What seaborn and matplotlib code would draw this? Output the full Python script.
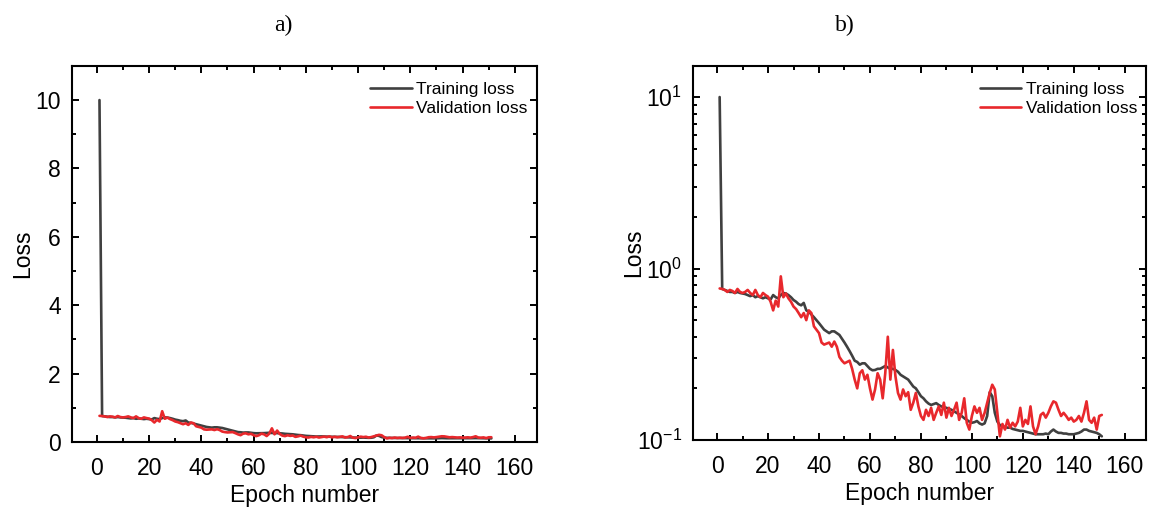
import matplotlib
matplotlib.use("Agg")
import matplotlib.pyplot as plt
from matplotlib.ticker import MultipleLocator, LogLocator, NullFormatter
import pandas as pd
import seaborn as sns

# loss per epoch
epochs = list(range(1, 152))

train_loss = [
    10.0, 0.76, 0.75, 0.74, 0.73, 0.73, 0.72, 0.73, 0.72, 0.715,
    0.71, 0.70, 0.69, 0.70, 0.68, 0.69, 0.68, 0.67, 0.68, 0.67,
    0.66, 0.70, 0.68, 0.67, 0.70, 0.72, 0.715, 0.70, 0.68, 0.655,
    0.64, 0.62, 0.61, 0.63, 0.57, 0.56, 0.54, 0.52, 0.50, 0.48,
    0.46, 0.44, 0.43, 0.42, 0.43, 0.43, 0.42, 0.41, 0.39, 0.37,
    0.35, 0.33, 0.31, 0.29, 0.285, 0.275, 0.28, 0.28, 0.27, 0.26,
    0.255, 0.256, 0.26, 0.26, 0.265, 0.27, 0.265, 0.26, 0.26, 0.256,
    0.25, 0.24, 0.235, 0.23, 0.225, 0.215, 0.205, 0.20, 0.19, 0.18,
    0.175, 0.168, 0.163, 0.16, 0.162, 0.164, 0.16, 0.157, 0.155, 0.154,
    0.152, 0.15, 0.147, 0.144, 0.141, 0.138, 0.134, 0.131, 0.128, 0.126,
    0.127, 0.129, 0.125, 0.123, 0.125, 0.138, 0.19, 0.18, 0.144, 0.128,
    0.122, 0.12, 0.119, 0.118, 0.118, 0.116, 0.115, 0.114, 0.113, 0.113,
    0.112, 0.111, 0.110, 0.109, 0.108, 0.108, 0.108, 0.108, 0.109, 0.108,
    0.112, 0.115, 0.112, 0.110, 0.110, 0.109, 0.109, 0.108, 0.108, 0.108,
    0.109, 0.110, 0.112, 0.115, 0.115, 0.113, 0.112, 0.111, 0.110, 0.108,
    0.105,
]

val_loss = [
    0.765, 0.76, 0.75, 0.73, 0.75, 0.74, 0.72, 0.76, 0.73, 0.72,
    0.73, 0.75, 0.72, 0.70, 0.75, 0.70, 0.68, 0.72, 0.70, 0.685,
    0.64, 0.57, 0.65, 0.60, 0.90, 0.68, 0.715, 0.67, 0.64, 0.60,
    0.58, 0.55, 0.52, 0.55, 0.50, 0.57, 0.55, 0.46, 0.44, 0.42,
    0.37, 0.36, 0.365, 0.37, 0.35, 0.375, 0.35, 0.305, 0.29, 0.28,
    0.285, 0.29, 0.26, 0.225, 0.20, 0.245, 0.255, 0.225, 0.24, 0.20,
    0.172, 0.197, 0.245, 0.225, 0.175, 0.245, 0.40, 0.225, 0.335, 0.235,
    0.188, 0.172, 0.197, 0.18, 0.19, 0.15, 0.165, 0.188, 0.157, 0.138,
    0.131, 0.15, 0.138, 0.154, 0.131, 0.144, 0.157, 0.14, 0.165, 0.135,
    0.154, 0.138, 0.15, 0.165, 0.131, 0.144, 0.175, 0.126, 0.115, 0.138,
    0.157, 0.144, 0.154, 0.131, 0.144, 0.165, 0.188, 0.21, 0.197, 0.144,
    0.105, 0.124, 0.115, 0.131, 0.118, 0.126, 0.12, 0.128, 0.154, 0.12,
    0.131, 0.124, 0.157, 0.12, 0.108, 0.12, 0.14, 0.144, 0.135, 0.144,
    0.157, 0.168, 0.165, 0.15, 0.138, 0.144, 0.138, 0.131, 0.135, 0.128,
    0.131, 0.138, 0.128, 0.144, 0.168, 0.131, 0.126, 0.135, 0.115, 0.138,
    0.14,
]

series_names = ["Training loss", "Validation loss"]
colors = ["#404040", "#e8282c"]

df = pd.concat([
    pd.DataFrame({"epoch": epochs, "loss": train_loss, "series": series_names[0]}),
    pd.DataFrame({"epoch": epochs, "loss": val_loss, "series": series_names[1]}),
])

sns.set_style("ticks")
plt.rcParams["font.family"] = ["Liberation Sans", "DejaVu Sans"]
plt.rcParams["mathtext.default"] = "regular"
plt.rcParams["text.color"] = "black"
plt.rcParams["axes.labelcolor"] = "black"
plt.rcParams["xtick.color"] = "black"
plt.rcParams["ytick.color"] = "black"
plt.rcParams["axes.edgecolor"] = "black"

fig = plt.figure(figsize=(11.51, 5.09), dpi=100)
ax_a = fig.add_axes([0.0626, 0.1316, 0.404, 0.739])
ax_b = fig.add_axes([0.602, 0.1356, 0.394, 0.735])

for ax, log in [(ax_a, False), (ax_b, True)]:
    sns.lineplot(df, x="epoch", y="loss", hue="series", palette=colors,
                 linewidth=1.9, ax=ax)
    ax.set_xlim(-9.5, 168.5)
    ax.xaxis.set_major_locator(MultipleLocator(20))
    ax.xaxis.set_minor_locator(MultipleLocator(10))
    if log:
        ax.set_yscale("log")
        ax.set_ylim(0.1, 15.2)
        ax.yaxis.set_major_locator(LogLocator(base=10))
        ax.yaxis.set_minor_locator(LogLocator(base=10, subs=range(2, 10)))
        ax.yaxis.set_minor_formatter(NullFormatter())
        ylab_pad = -6
    else:
        ax.set_ylim(0, 11)
        ax.yaxis.set_major_locator(MultipleLocator(2))
        ax.yaxis.set_minor_locator(MultipleLocator(1))
        ylab_pad = 1
    ax.tick_params(which="both", direction="in", top=True, right=True,
                   width=1.4, labelsize=16.5)
    ax.tick_params(axis="x", which="both", pad=11)
    ax.tick_params(axis="y", which="both", pad=8)
    ax.tick_params(which="major", length=5)
    ax.tick_params(which="minor", length=3)
    for sp in ax.spines.values():
        sp.set_linewidth(1.5)
    ax.set_xlabel("Epoch number", fontsize=16.5, labelpad=3)
    ax.set_ylabel("Loss", fontsize=16.5, labelpad=ylab_pad)
    ax.legend(loc="upper right", frameon=False, fontsize=12.5,
              handlelength=2.4, handletextpad=0.25, labelspacing=0.2,
              borderaxespad=0, bbox_to_anchor=(0.995, 0.975))

fig.text(283 / 1151, 1 - 25 / 509, "a)", family="Liberation Serif",
         fontsize=17, ha="center", va="center")
fig.text(845 / 1151, 1 - 25 / 509, "b)", family="Liberation Serif",
         fontsize=17, ha="center", va="center")

fig.savefig("out.png", dpi=100)
